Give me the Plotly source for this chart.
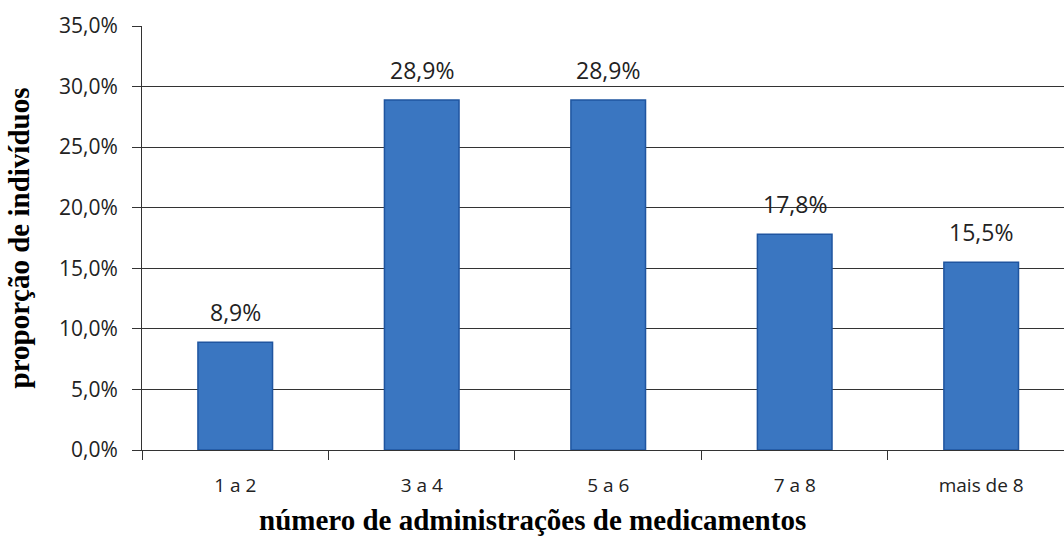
import plotly.graph_objects as go

# valores
categorias = ["1 a 2", "3 a 4", "5 a 6", "7 a 8", "mais de 8"]
proporcao = [0.089, 0.289, 0.289, 0.178, 0.155]
ticks_y = [0, 0.05, 0.10, 0.15, 0.20, 0.25, 0.30, 0.35]

fig = go.Figure()

fig.add_trace(go.Bar(
    x=categorias,
    y=proporcao,
    width=0.40,
    marker=dict(color='#3A76C1', line=dict(color='#1F55A0', width=1.5)),
    showlegend=False,
    hovertemplate='%{x}: %{y:.1%}<extra></extra>'
))

# rótulos de dados acima das barras
for cat, val in zip(categorias, proporcao):
    fig.add_annotation(
        x=cat, y=val, text=f'{val * 100:.1f}%'.replace('.', ','),
        xref='x', yref='y', yanchor='bottom', yshift=12,
        showarrow=False,
        font=dict(size=23, color='#222222', family='Open Sans'),
    )

serif_bold = dict(family='Liberation Serif', size=29, color='black', weight='bold')

fig.add_annotation(
    text='número de administrações de medicamentos',
    xref='paper', yref='paper', x=0.424, y=-0.165,
    xanchor='center', yanchor='middle', showarrow=False,
    font=serif_bold,
)

fig.update_layout(
    width=1064, height=538,
    margin=dict(l=142, r=0, t=26, b=88),
    paper_bgcolor='white',
    plot_bgcolor='white',
    separators=',.',
    font=dict(family='Open Sans', size=20, color='#222222'),
    xaxis=dict(
        range=[-0.5, 4.444],  # o gráfico original está cortado à direita
        showline=True, linecolor='#333333', linewidth=1,
        ticks='outside', tickson='boundaries', ticklen=9, tickcolor='#333333',
        tickfont=dict(size=19),
        ticklabelstandoff=18,
    ),
    yaxis=dict(
        title=dict(text='proporção de indivíduos', font=serif_bold, standoff=20),
        range=[0, 0.35],
        tickvals=ticks_y,
        tickformat='.1%',
        showline=True, linecolor='#333333', linewidth=1,
        showgrid=True, gridcolor='#333333', gridwidth=1,
        ticks='outside', ticklen=9, tickcolor='#333333',
        tickfont=dict(size=21),
        ticklabelstandoff=10,
        zeroline=False,
    ),
)

fig.write_html("out.html", config={'displayModeBar': False},
               post_script="document.body.style.margin='0';")
